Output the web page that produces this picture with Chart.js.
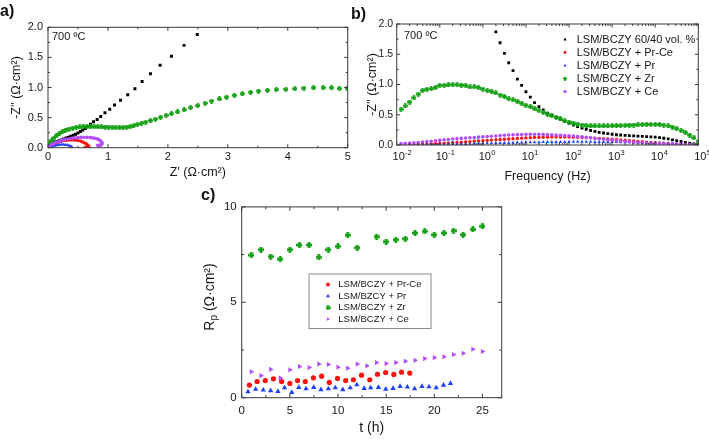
<!DOCTYPE html>
<html><head><meta charset="utf-8">
<script src="https://cdn.jsdelivr.net/npm/chart.js@4.4.1/dist/chart.umd.min.js"></script>
<style>
html,body{margin:0;padding:0;background:#fff;}
#page{position:relative;width:709px;height:439px;overflow:hidden;background:#fff;font-family:"Liberation Sans",Arial,sans-serif;}
canvas{position:absolute;}
.lab{position:absolute;font-weight:bold;font-size:16px;line-height:16px;color:#111;}
</style></head><body>
<div id="page">
<canvas id="ca" width="360" height="190" style="left:0px;top:0px;width:360px;height:190px"></canvas>
<canvas id="cb" width="354" height="190" style="left:355px;top:0px;width:354px;height:190px"></canvas>
<canvas id="cc" width="340" height="244" style="left:180px;top:195px;width:340px;height:244px"></canvas>
<div class="lab" style="left:0px;top:3px">a)</div>
<div class="lab" style="left:351px;top:6px">b)</div>
<div class="lab" style="left:201px;top:187px">c)</div>
</div>
<script>
// ================= DATA =================
// Series names
const namesAB = ['LSM/BCZY 60/40 vol. %','LSM/BCZY + Pr-Ce','LSM/BCZY + Pr','LSM/BCZY + Zr','LSM/BCZY + Ce'];
const namesC = ['LSM/BCZY + Pr-Ce','LSM/BZCY + Pr','LSM/BCZY + Zr','LSM/BCZY + Ce'];

// Panel a: Nyquist  Z' (x) vs -Z'' (y)
const nyqReBlack = [2.49,2.27,2.06,1.87,1.71,1.57,1.45,1.33,1.21,1.11,1.03,0.95,0.88,0.82,0.76,0.71,0.66,0.62,0.58,0.54,0.50,0.46,0.42,0.38,0.34,0.30,0.26,0.22,0.18,0.14,0.11,0.08,0.06,0.04,0.02];
const nyqImBlack = [1.88,1.70,1.52,1.37,1.23,1.10,0.98,0.88,0.79,0.71,0.64,0.58,0.52,0.47,0.43,0.39,0.35,0.32,0.295,0.27,0.245,0.225,0.205,0.19,0.175,0.16,0.145,0.13,0.115,0.10,0.085,0.07,0.06,0.05,0.04];
const nyqReRed = [0.01,0.03,0.05,0.08,0.11,0.14,0.17,0.20,0.23,0.27,0.31,0.35,0.39,0.43,0.47,0.51,0.55,0.58,0.61,0.64,0.66,0.67,0.68,0.67,0.65,0.62];
const nyqImRed = [0.005,0.02,0.035,0.052,0.067,0.08,0.092,0.102,0.11,0.118,0.124,0.128,0.13,0.129,0.125,0.118,0.107,0.095,0.08,0.063,0.046,0.032,0.02,0.012,0.008,0.006];
const nyqReBlue = [0.02,0.05,0.08,0.11,0.14,0.17,0.20,0.23,0.26,0.29,0.32,0.35,0.37,0.39,0.40];
const nyqImBlue = [0.003,0.012,0.022,0.031,0.039,0.045,0.05,0.053,0.053,0.05,0.044,0.035,0.025,0.015,0.008];
const nyqReGreen = [0.03,0.06,0.10,0.14,0.19,0.24,0.29,0.35,0.41,0.47,0.53,0.59,0.65,0.71,0.77,0.83,0.89,0.95,1.01,1.07,1.13,1.19,1.25,1.31,1.37,1.43,1.49,1.56,1.63,1.71,1.79,1.88,1.97,2.06,2.16,2.27,2.38,2.50,2.62,2.73,2.86,2.98,3.11,3.24,3.38,3.51,3.66,3.81,3.97,4.12,4.27,4.43,4.59,4.73,4.86,4.99];
const nyqImGreen = [0.08,0.12,0.16,0.20,0.235,0.265,0.29,0.31,0.325,0.337,0.345,0.35,0.35,0.35,0.35,0.348,0.345,0.343,0.34,0.337,0.335,0.333,0.335,0.34,0.35,0.365,0.385,0.405,0.425,0.45,0.475,0.505,0.535,0.565,0.595,0.63,0.665,0.70,0.74,0.775,0.81,0.84,0.87,0.895,0.92,0.94,0.955,0.965,0.97,0.98,0.99,0.995,0.995,0.995,0.985,0.99];
const nyqRePurple = [0.01,0.03,0.05,0.08,0.11,0.14,0.18,0.22,0.26,0.30,0.35,0.40,0.45,0.50,0.55,0.60,0.65,0.70,0.74,0.78,0.82,0.85,0.87,0.89,0.90,0.90,0.89,0.87,0.85,0.83];
const nyqImPurple = [0.008,0.025,0.042,0.06,0.076,0.09,0.105,0.118,0.13,0.14,0.149,0.157,0.163,0.168,0.171,0.172,0.171,0.168,0.163,0.156,0.146,0.133,0.118,0.10,0.082,0.064,0.048,0.038,0.035,0.04];
const nyqXTicks = [0,1,2,3,4,5];
const nyqYTicks = [0,0.5,1,1.5,2];

// Panel b: -Z'' vs frequency (Hz)
const freqHz = [0.0126,0.0158,0.0200,0.0251,0.0316,0.0398,0.0501,0.0631,0.0794,0.1,
  0.126,0.158,0.200,0.251,0.316,0.398,0.501,0.631,0.794,1,
  1.26,1.58,2.00,2.51,3.16,3.98,5.01,6.31,7.94,10,
  12.6,15.8,20.0,25.1,31.6,39.8,50.1,63.1,79.4,100,
  126,158,200,251,316,398,501,631,794,1000,
  1260,1580,2000,2510,3160,3980,5010,6310,7940,10000,
  12600,15800,20000,25100,31600,39800,50100,63100,79400,100000];
const bodeBlack = [null,null,null,null,null,null,null,null,null,null,
  null,null,null,null,null,null,null,null,null,null,
  null,null,1.87,1.69,1.515,1.36,1.23,1.09,0.985,0.88,
  0.79,0.70,0.635,0.58,0.525,0.485,0.455,0.425,0.39,0.36,
  0.33,0.305,0.28,0.26,0.24,0.225,0.21,0.198,0.187,0.178,
  0.17,0.165,0.16,0.155,0.15,0.146,0.142,0.138,0.135,0.13,
  0.122,0.112,0.10,0.086,0.072,0.058,0.043,0.03,0.018,0.008];
const bodeRed = [0.005,0.006,0.007,0.008,0.01,0.012,0.014,0.017,0.02,0.023,
  0.027,0.031,0.036,0.041,0.046,0.051,0.056,0.061,0.066,0.071,
  0.076,0.081,0.086,0.091,0.096,0.10,0.105,0.109,0.113,0.117,
  0.12,0.123,0.126,0.128,0.13,0.131,0.132,0.132,0.132,0.131,
  0.13,0.128,0.125,0.122,0.118,0.114,0.11,0.105,0.10,0.095,
  0.09,0.084,0.078,0.072,0.066,0.06,0.054,0.048,0.043,0.038,
  0.033,0.028,0.024,0.02,0.016,0.013,0.01,0.008,0.006,0.004];
const bodeBlue = [0.002,0.002,0.003,0.003,0.004,0.004,0.005,0.006,0.007,0.008,
  0.009,0.01,0.012,0.013,0.015,0.017,0.019,0.021,0.023,0.025,
  0.027,0.029,0.031,0.033,0.035,0.037,0.039,0.041,0.043,0.044,
  0.045,0.046,0.047,0.048,0.049,0.05,0.05,0.051,0.051,0.052,
  0.052,0.052,0.052,0.052,0.052,0.051,0.051,0.05,0.05,0.049,
  0.048,0.047,0.046,0.045,0.043,0.041,0.039,0.037,0.035,0.033,
  0.031,0.028,0.025,0.022,0.019,0.016,0.013,0.01,0.007,0.005];
const bodeGreen = [0.59,0.645,0.71,0.78,0.84,0.90,0.92,0.93,0.95,0.985,
  0.985,0.995,0.995,0.995,0.99,0.985,0.96,0.96,0.95,0.925,
  0.90,0.885,0.86,0.825,0.80,0.765,0.745,0.72,0.69,0.655,
  0.635,0.60,0.575,0.54,0.51,0.485,0.455,0.43,0.40,0.38,
  0.36,0.345,0.33,0.32,0.315,0.315,0.315,0.315,0.315,0.318,
  0.32,0.322,0.325,0.328,0.33,0.335,0.338,0.34,0.34,0.34,
  0.338,0.33,0.315,0.295,0.27,0.24,0.205,0.165,0.12,0.06];
const bodePurple = [0.025,0.028,0.032,0.036,0.042,0.048,0.055,0.062,0.07,0.078,
  0.085,0.092,0.098,0.104,0.11,0.115,0.12,0.125,0.13,0.135,
  0.14,0.145,0.15,0.155,0.16,0.165,0.168,0.171,0.174,0.176,
  0.177,0.177,0.176,0.175,0.172,0.169,0.165,0.161,0.157,0.152,
  0.147,0.141,0.135,0.128,0.12,0.112,0.104,0.096,0.088,0.08,
  0.072,0.065,0.058,0.052,0.046,0.041,0.036,0.032,0.028,0.025,
  0.022,0.019,0.016,0.014,0.012,0.01,0.008,0.006,0.005,0.004];
const freqTickValues = [0.01,0.1,1,10,100,1000,10000,100000];
const freqTickExps = ['-2','-1','0','1','2','3','4','5'];

// Panel c: Rp vs time
const timePrCe = [0.8,1.6,2.45,3.3,4.15,5.0,5.8,6.6,7.45,8.3,9.1,9.95,10.8,11.6,12.45,13.3,14.1,14.95,15.8,16.6,17.45];
const rpPrCe = [0.66,0.85,0.90,0.99,0.85,0.75,0.90,0.85,1.04,1.13,0.80,1.01,0.90,0.94,1.18,0.94,1.23,1.32,1.22,1.34,1.29];
const timePr = [0.65,1.45,2.24,3.0,3.76,4.45,5.2,5.93,6.68,7.48,8.23,9.0,9.72,10.5,11.27,11.96,12.72,13.4,14.2,14.96,15.72,16.45,17.2,17.96,18.72,19.45,20.2,20.96,21.68];
const rpPr = [0.31,0.44,0.40,0.37,0.33,0.52,0.28,0.54,0.47,0.54,0.42,0.47,0.52,0.42,0.52,0.68,0.49,0.52,0.54,0.45,0.49,0.59,0.56,0.47,0.59,0.57,0.52,0.66,0.75];
const timeZr = [1,2,3,4,5,6,7,8,9,10,11,12,14,15,16,17,18,19,20,21,22,23,24,25];
const rpZr = [7.47,7.76,7.40,7.26,7.76,8.0,8.0,7.36,7.76,7.93,8.52,7.86,8.44,8.18,8.28,8.33,8.63,8.72,8.54,8.63,8.75,8.54,8.82,8.98];
const timeCe = [1,2,3,4,5,6,7,8,9,10,11,12,13,14,15,16,17,18,19,20,21,22,23,24,25];
const rpCe = [1.36,1.16,1.48,1.03,1.46,1.63,1.58,1.76,1.74,1.60,1.55,1.76,1.67,1.84,1.79,1.84,1.91,1.96,2.05,2.10,2.14,2.26,2.33,2.54,2.42];
const timeTicks = [0,5,10,15,20,25];
const rpTicks = [0,5,10];

// ================= STYLE / HELPERS =================
const FONT = "'Liberation Sans', Arial, sans-serif";
const TXT = '#161616';
const FRAME = '#3a3a3a';
const C_BLACK = '#000000', C_RED = '#ff1010', C_BLUE = '#1f3fff', C_GREEN = '#12a012', C_PURPLE = '#b24dff';
Chart.defaults.font.family = FONT;
Chart.defaults.color = TXT;

function zip(xs, ys) { const out = []; xs.forEach((x, i) => { if (ys[i] !== null && ys[i] !== undefined) out.push({x: x, y: ys[i]}); }); return out; }
function plusImg(size, color) {
  const c = document.createElement('canvas'); c.width = size; c.height = size;
  const g = c.getContext('2d'); g.fillStyle = color;
  const t = size * 0.44, o = (size - t) / 2;
  g.fillRect(o, 0, t, size); g.fillRect(0, o, size, t);
  return c;
}
function setTicks(vals) { return s => { s.ticks = vals.map(v => ({value: v})); }; }

function drawMarker(ctx, style, r, rot, x, y) {
  if (Chart.helpers && Chart.helpers.drawPoint) {
    Chart.helpers.drawPoint(ctx, {pointStyle: style, radius: r, rotation: rot || 0, borderWidth: 0}, x, y);
  } else {
    ctx.beginPath(); ctx.arc(x, y, r, 0, Math.PI * 2); ctx.fill();
  }
}

const frameTicks = {
  id: 'frameTicks',
  afterDatasetsDraw(chart, _a, o) {
    const {ctx, chartArea: a} = chart;
    const sx = chart.scales.x, sy = chart.scales.y;
    ctx.save();
    ctx.strokeStyle = FRAME; ctx.lineWidth = 1;
    ctx.beginPath();
    const vx = (vals, len) => vals.forEach(v => { const p = sx.getPixelForValue(v); ctx.moveTo(p, a.bottom); ctx.lineTo(p, a.bottom - len); ctx.moveTo(p, a.top); ctx.lineTo(p, a.top + len); });
    const vy = (vals, len) => vals.forEach(v => { const p = sy.getPixelForValue(v); ctx.moveTo(a.left, p); ctx.lineTo(a.left + len, p); ctx.moveTo(a.right, p); ctx.lineTo(a.right - len, p); });
    vx(o.xMajor, o.major); vx(o.xMinor, o.minor); vy(o.yMajor, o.major); vy(o.yMinor, o.minor);
    ctx.stroke();
    ctx.strokeRect(a.left, a.top, a.right - a.left, a.bottom - a.top);
    ctx.restore();
  }
};

const extras = {
  id: 'extras',
  afterDraw(chart, _a, o) {
    const ctx = chart.ctx, a = chart.chartArea;
    ctx.save();
    ctx.fillStyle = TXT;
    (o.texts || []).forEach(t => {
      ctx.font = t.size + 'px ' + FONT; ctx.textAlign = 'left'; ctx.textBaseline = 'middle';
      ctx.fillText(t.text, t.x, t.y);
    });
    if (o.exp) {
      const e = o.exp, sx = chart.scales.x;
      e.values.forEach((v, i) => {
        const px = sx.getPixelForValue(v);
        ctx.textAlign = 'left'; ctx.textBaseline = 'middle';
        ctx.font = e.size + 'px ' + FONT; const wb = ctx.measureText('10').width;
        const x0 = px - wb / 2 + e.shift, y = a.bottom + e.dy;
        ctx.fillText('10', x0, y);
        ctx.font = e.supSize + 'px ' + FONT;
        ctx.fillText(e.sup[i], x0 + wb + 0.3, y - e.raise);
      });
    }
    if (o.ytitle) {
      const t = o.ytitle;
      ctx.translate(t.x, t.y); ctx.rotate(-Math.PI / 2);
      ctx.textBaseline = 'middle'; ctx.textAlign = 'left';
      ctx.font = t.size + 'px ' + FONT; const w1 = ctx.measureText(t.main).width; const w3 = ctx.measureText(t.rest).width;
      ctx.font = t.subSize + 'px ' + FONT; const w2 = ctx.measureText(t.sub).width;
      let x = -(w1 + w2 + w3) / 2;
      ctx.font = t.size + 'px ' + FONT; ctx.fillText(t.main, x, 0); x += w1;
      ctx.font = t.subSize + 'px ' + FONT; ctx.fillText(t.sub, x, t.subDrop); x += w2;
      ctx.font = t.size + 'px ' + FONT; ctx.fillText(t.rest, x, 0);
    }
    ctx.restore();
    if (o.legend) {
      const L = o.legend;
      ctx.save();
      if (L.box) { ctx.strokeStyle = L.box.color; ctx.lineWidth = 1; ctx.strokeRect(L.box.x, L.box.y, L.box.w, L.box.h); }
      chart.data.datasets.forEach((ds, i) => {
        const y = L.rows[i];
        ctx.fillStyle = ds.pointBackgroundColor; ctx.strokeStyle = ds.pointBackgroundColor;
        drawMarker(ctx, ds.legendStyle || ds.pointStyle, L.radius * (ds.legendScale || 1), ds.pointRotation, L.markerX, y);
        ctx.fillStyle = TXT; ctx.font = L.size + 'px ' + FONT; ctx.textAlign = 'left'; ctx.textBaseline = 'middle';
        ctx.fillText(ds.label, L.textX, y);
      });
      ctx.restore();
    }
  }
};

function ds(label, data, color, style, r, order, extra) {
  return Object.assign({label: label, data: data, pointStyle: style, pointRadius: r, pointHoverRadius: r,
    pointBackgroundColor: color, pointBorderColor: color, pointBorderWidth: 0, showLine: false, order: order}, extra || {});
}
function baseOpts(pad) {
  return {responsive: false, maintainAspectRatio: false, animation: false, events: [],
    layout: {padding: pad},
    plugins: {legend: {display: false}, tooltip: {enabled: false}}};
}
function linAxis(min, max, ticks, fmt, size, pad, fitProp, fitVal, title) {
  return {type: 'linear', min: min, max: max,
    grid: {display: false, drawTicks: false}, border: {display: false},
    afterBuildTicks: setTicks(ticks),
    afterFit: s => { s[fitProp] = fitVal; },
    ticks: {font: {size: size}, padding: pad, color: TXT, maxRotation: 0, autoSkip: false, callback: fmt},
    title: title || {display: false}};
}

// ================= PANEL A =================
const greenA = plusImg(5, C_GREEN), greenLegAB = plusImg(4, C_GREEN);
new Chart(document.getElementById('ca'), {
  type: 'scatter',
  data: {datasets: [
    ds(namesAB[0], zip(nyqReBlack, nyqImBlack), C_BLACK, 'rect', 2.1, 5),
    ds(namesAB[1], zip(nyqReRed, nyqImRed), C_RED, 'circle', 1.7, 3),
    ds(namesAB[2], zip(nyqReBlue, nyqImBlue), C_BLUE, 'triangle', 2.0, 2),
    ds(namesAB[3], zip(nyqReGreen, nyqImGreen), C_GREEN, greenA, 2, 4),
    ds(namesAB[4], zip(nyqRePurple, nyqImPurple), C_PURPLE, 'circle', 1.8, 1)
  ]},
  options: Object.assign(baseOpts({left: 0, top: 27.3, right: 12.3, bottom: 0}), {
    scales: {
      x: linAxis(0, 5, nyqXTicks, v => String(v), 11, 2.5, 'height', 42.3,
        {display: true, text: "Z' (Ω·cm²)", font: {size: 12.5}, color: TXT, padding: {top: 0, bottom: 9.8}}),
      y: linAxis(0, 2, nyqYTicks, v => v.toFixed(1), 11, 5, 'width', 48,
        {display: true, text: "-Z'' (Ω·cm²)", font: {size: 12.5}, color: TXT, padding: {top: 8.8, bottom: 0}})
    },
    plugins: {legend: {display: false}, tooltip: {enabled: false},
      frameTicks: {xMajor: nyqXTicks, xMinor: [0.5, 1.5, 2.5, 3.5, 4.5], yMajor: nyqYTicks, yMinor: [0.25, 0.75, 1.25, 1.75], major: 3.5, minor: 2},
      extras: {texts: [{text: '700 ºC', x: 52, y: 37, size: 11}]}}
  }),
  plugins: [frameTicks, extras]
});

// ================= PANEL B =================
const logMinor = [];
[0.01, 0.1, 1, 10, 100, 1000, 10000].forEach(d => { for (let m = 2; m <= 9; m++) logMinor.push(m * d); });
const greenB = plusImg(5, C_GREEN);
new Chart(document.getElementById('cb'), {
  type: 'scatter',
  data: {datasets: [
    ds(namesAB[0], zip(freqHz, bodeBlack), C_BLACK, 'rect', 2.0, 5, {legendScale: 0.95}),
    ds(namesAB[1], zip(freqHz, bodeRed), C_RED, 'circle', 1.7, 3, {legendScale: 0.9}),
    ds(namesAB[2], zip(freqHz, bodeBlue), C_BLUE, 'triangle', 2.0, 2, {legendScale: 1.1}),
    ds(namesAB[3], zip(freqHz, bodeGreen), C_GREEN, greenB, 2, 4, {legendStyle: greenLegAB}),
    ds(namesAB[4], zip(freqHz, bodePurple), C_PURPLE, 'circle', 1.8, 1, {legendScale: 1.0})
  ]},
  options: Object.assign(baseOpts({left: 0, top: 24, right: 10.7, bottom: 0}), {
    scales: {
      x: {type: 'logarithmic', min: 0.01, max: 100000,
        grid: {display: false, drawTicks: false}, border: {display: false},
        afterBuildTicks: setTicks(freqTickValues),
        afterFit: s => { s.height = 45; },
        ticks: {display: false},
        title: {display: true, text: 'Frequency (Hz)', font: {size: 12.5}, color: TXT, padding: {top: 0, bottom: 5.8}}},
      y: linAxis(0, 2, nyqYTicks, v => v.toFixed(1), 10.5, 3.5, 'width', 41.7,
        {display: true, text: "-Z'' (Ω·cm²)", font: {size: 12.5}, color: TXT, padding: {top: 10, bottom: 0}})
    },
    plugins: {legend: {display: false}, tooltip: {enabled: false},
      frameTicks: {xMajor: freqTickValues, xMinor: logMinor, yMajor: nyqYTicks, yMinor: [0.25, 0.75, 1.25, 1.75], major: 3.5, minor: 2},
      extras: {
        texts: [{text: '700 ºC', x: 49, y: 36, size: 11}],
        exp: {values: freqTickValues, sup: freqTickExps, size: 11, supSize: 7.5, raise: 4.5, dy: 12, shift: 2},
        legend: {markerX: 210, textX: 221.7, rows: [39.5, 52.5, 65.5, 78.5, 91.5], size: 11, radius: 1.6}
      }}
  }),
  plugins: [frameTicks, extras]
});

// ================= PANEL C =================
const greenC = plusImg(6, C_GREEN), greenLegC = plusImg(5, C_GREEN);
new Chart(document.getElementById('cc'), {
  type: 'scatter',
  data: {datasets: [
    ds(namesC[0], zip(timePrCe, rpPrCe), C_RED, 'circle', 2.6, 3, {legendScale: 0.85}),
    ds(namesC[1], zip(timePr, rpPr), C_BLUE, 'triangle', 3.1, 4, {legendScale: 1.0}),
    ds(namesC[2], zip(timeZr, rpZr), C_GREEN, greenC, 3, 2, {legendStyle: greenLegC}),
    ds(namesC[3], zip(timeCe, rpCe), C_PURPLE, 'triangle', 3.0, 1, {pointRotation: 90, legendScale: 0.9})
  ]},
  options: Object.assign(baseOpts({left: 0, top: 10.7, right: 18.3, bottom: 0}), {
    scales: {
      x: linAxis(0, 27, timeTicks, v => String(v), 11.5, 6.2, 'height', 41.3,
        {display: true, text: 't (h)', font: {size: 14}, color: TXT, padding: {top: 0, bottom: 2.6}}),
      y: linAxis(0, 10, rpTicks, v => String(v), 11.5, 5, 'width', 61.7)
    },
    plugins: {legend: {display: false}, tooltip: {enabled: false},
      frameTicks: {xMajor: timeTicks, xMinor: [2.5, 7.5, 12.5, 17.5, 22.5], yMajor: rpTicks, yMinor: [2.5, 7.5], major: 4, minor: 2.5},
      extras: {
        ytitle: {x: 30, y: 102, main: 'R', sub: 'p', rest: ' (Ω·cm²)', size: 14, subSize: 10, subDrop: 4},
        legend: {box: {x: 129, y: 79, w: 122, h: 54.5, color: '#8a8a8a'}, markerX: 148, textX: 158.3, rows: [89.5, 101, 112.7, 124], size: 9.5, radius: 2.3}
      }}
  }),
  plugins: [frameTicks, extras]
});
</script>
</body></html>
